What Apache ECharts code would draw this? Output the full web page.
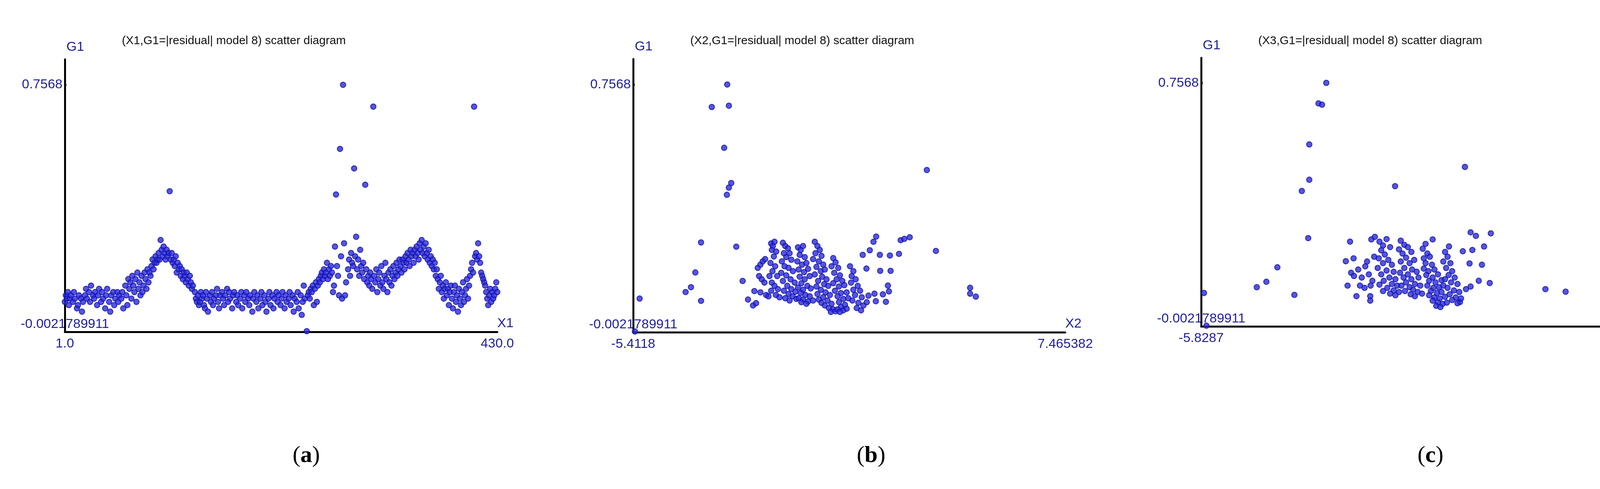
<!DOCTYPE html>
<html>
<head>
<meta charset="utf-8">
<script src="https://cdn.jsdelivr.net/npm/echarts@6/dist/echarts.min.js"></script>
<style>
  html, body { margin: 0; padding: 0; background: #fff; }
  #chart { width: 4324px; height: 1251px; }
</style>
</head>
<body>
<div id="chart"></div>
<script>
const Y_MIN = -0.0021789911;
const Y_MAX = 0.835;
const Y_TICK = 0.7568;

const titles = [
  '(X1,G1=|residual| model 8) scatter diagram',
  '(X2,G1=|residual| model 8) scatter diagram',
  '(X3,G1=|residual| model 8) scatter diagram'
];
const xNames = ['X1', 'X2', 'X3'];
const xMins = [1.0, -5.4118, -5.8287];
const xMaxs = [430.0, 7.465382, 6.367104];
const xMinLabels = ['1.0', '-5.4118', '-5.8287'];
const xMaxLabels = ['430.0', '7.465382', '6.367104'];
const captions = ['a', 'b', 'c'];

const pointsX1 = [
  [1,0.09],[2,0.11],[3,0.10],[4,0.12],[5,0.08],[6,0.10],[7,0.11],[9,0.09],[10,0.12],[11,0.10],[13,0.07],[14,0.08],[15,0.11],[17,0.10],[18,0.06],[19,0.09],[21,0.11],[22,0.13],[23,0.10],[25,0.12],[26,0.09],[27,0.14],[29,0.11],[30,0.10],[31,0.12],[33,0.08],[34,0.11],[35,0.13],[37,0.09],[38,0.12],[39,0.10],[41,0.07],[42,0.11],[43,0.13],[45,0.09],[46,0.06],[47,0.11],[49,0.12],[50,0.08],[51,0.10],[53,0.12],[54,0.09],[55,0.11],[57,0.10],[58,0.12],[59,0.07],
  [61,0.14],[62,0.11],[63,0.08],[64,0.16],[65,0.13],[66,0.15],[67,0.10],[68,0.17],[69,0.14],[70,0.12],[71,0.16],[72,0.09],[73,0.18],[74,0.13],[75,0.15],[76,0.11],[77,0.17],[78,0.12],[79,0.14],[80,0.18],[81,0.16],[82,0.13],[83,0.19],[84,0.15],[85,0.18],[86,0.17],
  [87,0.20],[88,0.22],[89,0.19],[90,0.21],[91,0.23],[92,0.21],[93,0.22],[94,0.24],[95,0.22],[96,0.28],[97,0.25],[98,0.23],[99,0.26],[100,0.24],[101,0.22],[102,0.25],[103,0.23],[104,0.24],[105,0.43],[106,0.22],[107,0.24],[108,0.21],
  [109,0.22],[110,0.20],[111,0.23],[112,0.18],[113,0.21],[114,0.19],[115,0.20],[116,0.17],[117,0.19],[118,0.16],[119,0.18],[120,0.17],[121,0.15],[122,0.18],[123,0.16],[124,0.14],[125,0.17],[126,0.15],[127,0.13],[128,0.14],[130,0.12],[131,0.10],[132,0.09],[133,0.11],[134,0.08],
  [135,0.09],[136,0.12],[137,0.10],[138,0.11],[139,0.08],[140,0.07],[141,0.12],[142,0.10],[143,0.06],[145,0.11],[146,0.09],[147,0.12],[148,0.08],[149,0.10],[151,0.11],[152,0.13],[153,0.09],[154,0.07],[155,0.11],[157,0.12],[158,0.10],[159,0.08],[160,0.11],[162,0.13],[163,0.09],[164,0.12],[165,0.10],[167,0.07],[168,0.11],[169,0.12],[171,0.09],[172,0.11],[173,0.08],[175,0.10],[176,0.12],[177,0.07],[179,0.11],[180,0.09],[181,0.12],[183,0.10],[184,0.08],[185,0.11],[187,0.06],[188,0.10],[189,0.12],[191,0.09],[192,0.11],[193,0.07],[195,0.10],[196,0.12],[197,0.08],[199,0.11],[200,0.09],[201,0.06],[203,0.10],[204,0.12],[205,0.08],[207,0.11],[208,0.07],[209,0.10],[211,0.12],[212,0.09],[213,0.11],[215,0.08],[216,0.10],[217,0.12],[219,0.07],[220,0.11],[221,0.09],[223,0.10],[224,0.12],[225,0.08],[227,0.11],[228,0.06],[229,0.10],[231,0.09],[232,0.12],[233,0.07],[235,0.11],[236,0.05],[237,0.09],[238,0.14],[239,0.10],
  [241,0.00],
  [242,0.11],[243,0.12],[244,0.10],[245,0.13],[246,0.12],[247,0.14],[248,0.08],[249,0.13],[250,0.15],[251,0.09],[252,0.14],[253,0.16],[254,0.15],[255,0.17],[256,0.18],[257,0.16],[258,0.19],[259,0.17],[260,0.18],[261,0.21],[262,0.16],[263,0.19],[264,0.17],[265,0.20],
  [266,0.18],[267,0.12],[268,0.14],[269,0.26],[270,0.42],[271,0.20],[272,0.17],[273,0.11],[274,0.56],[275,0.23],[276,0.10],[277,0.757],[278,0.27],[279,0.11],[280,0.15],[282,0.19],[283,0.22],[284,0.17],[285,0.24],[286,0.21],[287,0.20],[288,0.50],[289,0.23],[290,0.29],[291,0.19],[292,0.22],[293,0.17],[294,0.25],[295,0.20],[296,0.18],[297,0.21],[298,0.16],[299,0.45],[300,0.19],[301,0.15],[302,0.17],[303,0.14],[304,0.18],[305,0.16],[306,0.13],[307,0.69],[308,0.17],[309,0.15],[310,0.19],[311,0.12],[312,0.16],[313,0.18],[314,0.14],[315,0.20],[316,0.15],[317,0.13],[318,0.17],[319,0.21],[320,0.16],
  [321,0.12],[322,0.18],[323,0.15],[324,0.19],[325,0.14],[326,0.17],[327,0.20],[328,0.16],[329,0.18],[330,0.21],[331,0.17],[332,0.19],[333,0.22],[334,0.20],[335,0.18],[336,0.22],[337,0.21],[338,0.19],[339,0.23],[340,0.21],[341,0.24],[342,0.22],[343,0.20],[344,0.25],[345,0.23],[346,0.24],[347,0.21],[348,0.25],[349,0.23],[350,0.26],[351,0.24],[352,0.22],[353,0.27],[354,0.25],[355,0.28],[356,0.24],[357,0.26],[358,0.23],[359,0.27],
  [360,0.24],[361,0.22],[362,0.25],[363,0.21],[364,0.23],[365,0.20],[366,0.22],[367,0.19],[368,0.21],[369,0.17],[370,0.19],[371,0.16],[372,0.13],[373,0.15],[374,0.17],[375,0.12],[376,0.14],[377,0.10],[378,0.13],[379,0.15],[380,0.11],[381,0.13],[382,0.08],[383,0.12],[384,0.14],
  [385,0.10],[386,0.07],[387,0.12],[388,0.14],[389,0.09],[390,0.11],[391,0.06],[392,0.13],[393,0.10],[394,0.08],[395,0.12],[396,0.15],[397,0.09],[398,0.11],[399,0.13],[400,0.16],[401,0.10],[402,0.14],[403,0.17],[404,0.19],[405,0.21],
  [406,0.18],[407,0.69],[408,0.23],[409,0.24],[410,0.22],[411,0.27],[412,0.23],[413,0.21],[414,0.18],[415,0.17],[416,0.16],[417,0.15],[418,0.14],
  [419,0.12],[420,0.10],[421,0.08],[422,0.11],[423,0.13],[424,0.09],[425,0.12],[426,0.10],[427,0.11],[428,0.13],[429,0.15],[430,0.12]
];

const pointsX2 = [
  [-5.36,0.00],[-5.22,0.101],[-2.61,0.757],[-3.07,0.688],[-2.56,0.692],[-2.70,0.563],[-2.49,0.455],[-2.56,0.441],[-2.62,0.419],
  [3.34,0.495],[-3.39,0.273],[-2.34,0.260],[-3.56,0.181],[-3.69,0.136],[-3.85,0.121],[-3.39,0.094],[-2.15,0.155],[-1.80,0.124],[-1.99,0.098],[-1.84,0.080],[-1.75,0.087],
  [3.61,0.247],[4.63,0.134],[4.63,0.116],[4.80,0.107],[7.47,0.103],
  [1.83,0.291],[1.75,0.275],[2.56,0.280],[2.83,0.289],[2.67,0.284],[2.51,0.238],[2.24,0.233],[1.94,0.235],[1.95,0.186],[2.26,0.186],[1.54,0.193],[2.18,0.141],[2.21,0.123],[2.03,0.114],[1.78,0.116],[1.82,0.093],[2.12,0.091],[1.43,0.235],[1.64,0.249],
  [-1.70,0.195],[-1.62,0.205],[-1.55,0.215],[-1.48,0.222],[-1.66,0.170],[-1.58,0.160],[-1.50,0.150],[-1.62,0.120],[-1.45,0.112],[-1.38,0.108],
  [-1.30,0.270],[-1.25,0.262],[-1.20,0.275],[-1.28,0.250],[-1.15,0.245],[-1.22,0.230],[-1.32,0.210],[-1.18,0.200],[-1.26,0.185],[-1.35,0.170],[-1.12,0.170],[-1.28,0.150],[-1.20,0.140],[-1.10,0.130],[-1.30,0.125],[-1.16,0.112],[-1.05,0.105],
  [-0.95,0.272],[-0.88,0.262],[-0.80,0.255],[-0.92,0.240],[-0.85,0.228],[-0.75,0.240],[-0.98,0.215],[-0.70,0.220],[-0.90,0.200],[-0.78,0.195],[-1.00,0.180],[-0.65,0.185],[-0.85,0.172],[-0.72,0.160],[-0.95,0.155],[-0.60,0.150],[-0.82,0.140],[-0.70,0.130],[-0.92,0.125],[-0.58,0.122],[-0.78,0.115],[-0.66,0.108],[-0.88,0.102],[-0.55,0.100],[-0.75,0.095],
  [-0.50,0.258],[-0.42,0.250],[-0.35,0.262],[-0.45,0.235],[-0.30,0.228],[-0.52,0.215],[-0.38,0.205],[-0.25,0.210],[-0.48,0.190],[-0.32,0.182],[-0.20,0.192],[-0.45,0.168],[-0.30,0.160],[-0.15,0.170],[-0.40,0.148],[-0.22,0.140],[-0.50,0.135],[-0.35,0.128],[-0.12,0.132],[-0.42,0.118],[-0.28,0.112],[-0.15,0.108],[-0.48,0.102],[-0.35,0.098],[-0.20,0.092],[-0.05,0.095],[-0.40,0.090],[-0.25,0.085],
  [0.00,0.275],[0.08,0.262],[0.15,0.250],[0.02,0.240],[0.20,0.232],[-0.05,0.222],[0.12,0.215],[0.25,0.205],[0.05,0.198],[0.18,0.185],[0.30,0.190],[0.00,0.175],[0.22,0.168],[0.35,0.160],[0.10,0.155],[0.28,0.145],[0.05,0.138],[0.40,0.140],[0.18,0.128],[0.32,0.120],[0.08,0.115],[0.45,0.112],[0.25,0.105],[0.12,0.098],[0.38,0.095],[0.20,0.088],[0.50,0.085],[0.30,0.080],[0.42,0.072],[0.55,0.068],[0.48,0.060],[0.62,0.062],
  [0.55,0.225],[0.62,0.212],[0.50,0.200],[0.70,0.195],[0.58,0.180],[0.75,0.172],[0.65,0.160],[0.82,0.155],[0.55,0.148],[0.72,0.138],[0.88,0.142],[0.60,0.125],[0.78,0.118],[0.95,0.120],[0.68,0.108],[0.85,0.100],[1.00,0.102],[0.72,0.090],[0.90,0.082],[0.78,0.075],[0.68,0.068],[0.85,0.065],[0.95,0.070],[0.75,0.060],
  [1.05,0.200],[1.15,0.185],[1.10,0.170],[1.22,0.160],[1.08,0.150],[1.28,0.140],[1.15,0.128],[1.35,0.125],[1.20,0.112],[1.40,0.105],[1.12,0.095],[1.30,0.088],[1.45,0.080],[1.25,0.072],[1.38,0.065],[1.55,0.090],[1.60,0.110]
];

const pointsX3 = [
  [-5.68,0.00],[-5.75,0.102],[-2.30,0.757],[-2.52,0.693],[-2.42,0.689],[-2.78,0.565],[1.61,0.495],[-0.36,0.435],[-2.78,0.455],[-2.99,0.420],[-2.81,0.273],
  [-3.68,0.182],[-3.99,0.137],[-4.26,0.120],[-3.20,0.096],[3.88,0.114],[4.45,0.106],[6.37,0.102],
  [1.77,0.291],[1.92,0.280],[2.34,0.288],[2.15,0.247],[1.82,0.236],[1.55,0.232],[1.16,0.247],[1.74,0.194],[2.09,0.190],[2.00,0.140],[2.31,0.133],[1.77,0.122],[1.64,0.114],[1.47,0.074],[0.70,0.269],
  [-1.63,0.262],[-1.75,0.201],[-1.53,0.210],[-1.70,0.125],[-1.45,0.092],[-1.06,0.092],[-1.06,0.078],[-1.03,0.269],[-0.93,0.277],
  [-1.60,0.165],[-1.52,0.155],[-1.40,0.175],[-1.30,0.150],[-1.35,0.125],[-1.22,0.118],[-1.15,0.200],[-1.20,0.185],[-1.10,0.160],[-1.00,0.140],[-0.95,0.215],[-1.05,0.125],
  [-0.80,0.262],[-0.70,0.250],[-0.60,0.270],[-0.75,0.235],[-0.65,0.222],[-0.50,0.245],[-0.82,0.210],[-0.55,0.205],[-0.70,0.195],[-0.45,0.190],[-0.85,0.180],[-0.60,0.172],[-0.40,0.168],[-0.75,0.160],[-0.52,0.150],[-0.35,0.145],[-0.68,0.140],[-0.45,0.130],[-0.80,0.128],[-0.30,0.125],[-0.58,0.118],[-0.40,0.110],[-0.70,0.108],[-0.25,0.105],[-0.50,0.100],[-0.35,0.095],
  [-0.20,0.265],[-0.10,0.252],[-0.25,0.238],[0.00,0.245],[-0.15,0.225],[0.10,0.230],[-0.05,0.212],[-0.20,0.200],[0.05,0.195],[0.18,0.205],[-0.10,0.180],[0.12,0.175],[-0.22,0.165],[0.00,0.160],[0.25,0.168],[-0.12,0.150],[0.10,0.145],[0.30,0.150],[-0.05,0.135],[0.20,0.130],[-0.18,0.125],[0.05,0.120],[0.35,0.125],[0.15,0.112],[-0.08,0.108],[0.28,0.105],[0.08,0.098],[0.40,0.100],[0.20,0.092],
  [0.50,0.255],[0.42,0.240],[0.55,0.225],[0.45,0.210],[0.62,0.215],[0.50,0.195],[0.68,0.190],[0.45,0.178],[0.58,0.170],[0.75,0.175],[0.52,0.158],[0.70,0.150],[0.85,0.160],[0.60,0.140],[0.78,0.135],[0.95,0.142],[0.55,0.125],[0.72,0.118],[0.88,0.120],[1.00,0.125],[0.65,0.108],[0.82,0.102],[0.95,0.105],[0.60,0.095],[0.75,0.088],[0.90,0.085],[1.05,0.090],[0.70,0.078],[0.85,0.072],[0.98,0.068],[0.80,0.062],[0.92,0.058],
  [1.05,0.230],[1.12,0.215],[1.00,0.200],[1.20,0.195],[1.08,0.180],[1.25,0.170],[1.15,0.158],[1.32,0.150],[1.05,0.145],[1.22,0.135],[1.40,0.130],[1.12,0.118],[1.30,0.110],[1.45,0.105],[1.18,0.098],[1.35,0.088],[1.50,0.085],[1.25,0.080],[1.40,0.070],[1.10,0.072]
];

const panels = [pointsX1, pointsX2, pointsX3];

const FONT = '"Liberation Sans", Arial, sans-serif';
const BLUE_TXT = '#1f1f9a';
const grids = [
  { left: 166, width: 1107, top: 152, height: 697 },
  { left: 1621, width: 1106, top: 151, height: 699 },
  { left: 3075, width: 1107, top: 148, height: 687 }
];
const captionX = [784, 2230, 3662];

const chart = echarts.init(document.getElementById('chart'));

chart.setOption({
  backgroundColor: '#fff',
  animation: false,
  grid: grids,
  xAxis: panels.map((_, i) => ({
    type: 'value', gridIndex: i, min: xMins[i], max: xMaxs[i],
    name: xNames[i], nameLocation: 'end', nameGap: 0,
    nameTextStyle: { fontFamily: FONT, fontSize: 34, color: BLUE_TXT, align: 'left', verticalAlign: 'bottom', padding: [0, 0, 4, 0] },
    axisLine: { onZero: false, lineStyle: { color: '#000', width: 5 } },
    axisTick: { show: false },
    splitLine: { show: false },
    axisLabel: {
      customValues: [xMins[i], xMaxs[i]],
      formatter: v => (v === xMins[i] ? xMinLabels[i] : xMaxLabels[i]),
      fontFamily: FONT, fontSize: 34, color: BLUE_TXT, margin: 14
    }
  })),
  yAxis: panels.map((_, i) => ({
    type: 'value', gridIndex: i, min: Y_MIN, max: Y_MAX,
    name: 'G1', nameLocation: 'end', nameGap: 14,
    nameTextStyle: { fontFamily: FONT, fontSize: 34, color: BLUE_TXT, align: 'left', padding: [0, 0, 0, 4] },
    axisLine: { onZero: false, lineStyle: { color: '#000', width: 5 } },
    axisTick: { show: true, customValues: [Y_TICK], length: 4, inside: true, lineStyle: { color: '#000', width: 5 } },
    splitLine: { show: false },
    axisLabel: {
      customValues: [Y_TICK],
      formatter: () => '0.7568',
      fontFamily: FONT, fontSize: 34, color: BLUE_TXT, margin: 6
    }
  })),
  series: panels.map((pts, i) => ({
    type: 'scatter', xAxisIndex: i, yAxisIndex: i, data: pts,
    symbol: 'circle', symbolSize: 14,
    itemStyle: { color: '#2a2ad8', borderColor: '#0c0ca8', borderWidth: 2 }
  }))
});

// titles, min labels, captions
const graphic = [];
panels.forEach((_, i) => {
  const g = grids[i];
  const origin = chart.convertToPixel({ gridIndex: i }, [xMins[i], Y_MIN]);
  graphic.push({
    type: 'text', x: g.left + 146, y: 105,
    style: { text: titles[i], font: '30px ' + FONT, fill: '#111', verticalAlign: 'middle' }
  });
  graphic.push({
    type: 'text', x: origin[0] - 113, y: origin[1] - 2,
    style: { text: '-0.0021789911', font: '34px ' + FONT, fill: BLUE_TXT, verticalAlign: 'bottom' }
  });
  graphic.push({
    type: 'text', x: captionX[i], y: 1166,
    style: {
      text: '({b|' + captions[i] + '})', align: 'center', verticalAlign: 'middle',
      font: '60px "Liberation Serif", serif', fill: '#000',
      rich: { b: { font: 'bold 60px "Liberation Serif", serif', fill: '#000' } }
    }
  });
});
chart.setOption({ graphic });
</script>
</body>
</html>
